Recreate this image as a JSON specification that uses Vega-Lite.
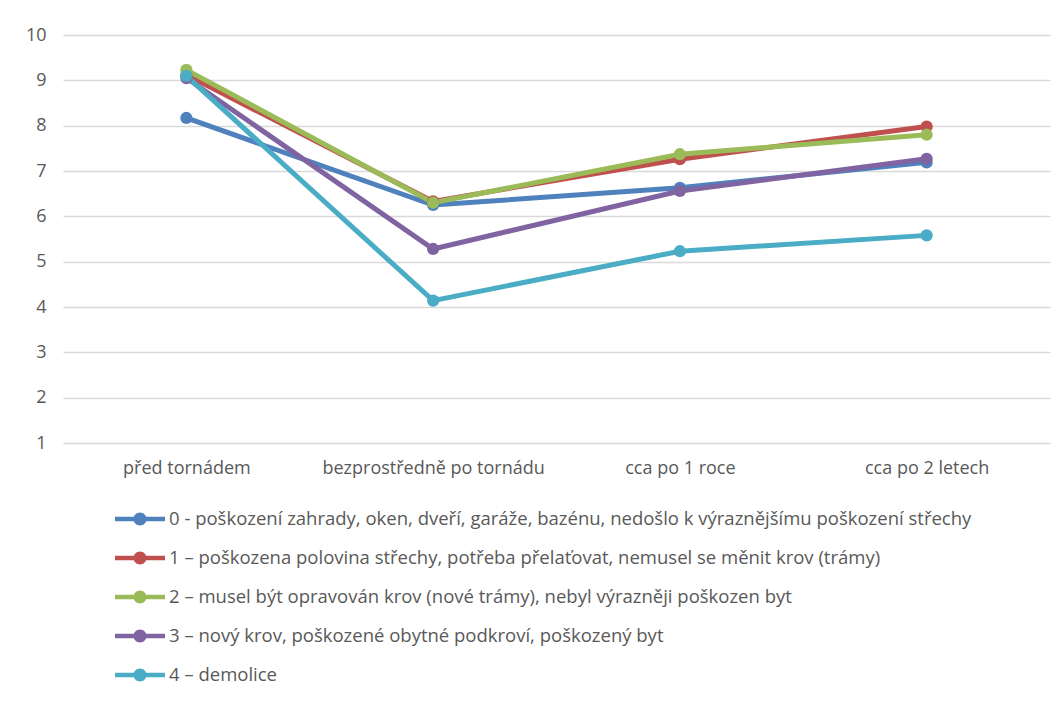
{
  "$schema": "https://vega.github.io/schema/vega-lite/v6.json",
  "width": 987,
  "height": 408,
  "autosize": {"type": "none"},
  "padding": {"left": 63, "top": 35, "right": 13, "bottom": 261},
  "background": "white",
  "config": {
    "view": {"stroke": null},
    "font": "Open Sans"
  },
  "data": {
    "values": [
      {"obdobi": "před tornádem", "skupina": "0 - poškození zahrady, oken, dveří, garáže, bazénu, nedošlo k výraznějšímu poškození střechy", "hodnota": 8.17},
      {"obdobi": "bezprostředně po tornádu", "skupina": "0 - poškození zahrady, oken, dveří, garáže, bazénu, nedošlo k výraznějšímu poškození střechy", "hodnota": 6.25},
      {"obdobi": "cca po 1 roce", "skupina": "0 - poškození zahrady, oken, dveří, garáže, bazénu, nedošlo k výraznějšímu poškození střechy", "hodnota": 6.63},
      {"obdobi": "cca po 2 letech", "skupina": "0 - poškození zahrady, oken, dveří, garáže, bazénu, nedošlo k výraznějšímu poškození střechy", "hodnota": 7.19},
      {"obdobi": "před tornádem", "skupina": "1 – poškozena polovina střechy, potřeba přelaťovat, nemusel se měnit krov (trámy)", "hodnota": 9.12},
      {"obdobi": "bezprostředně po tornádu", "skupina": "1 – poškozena polovina střechy, potřeba přelaťovat, nemusel se měnit krov (trámy)", "hodnota": 6.33},
      {"obdobi": "cca po 1 roce", "skupina": "1 – poškozena polovina střechy, potřeba přelaťovat, nemusel se měnit krov (trámy)", "hodnota": 7.26},
      {"obdobi": "cca po 2 letech", "skupina": "1 – poškozena polovina střechy, potřeba přelaťovat, nemusel se měnit krov (trámy)", "hodnota": 7.98},
      {"obdobi": "před tornádem", "skupina": "2 – musel být opravován krov (nové trámy), nebyl výrazněji poškozen byt", "hodnota": 9.23},
      {"obdobi": "bezprostředně po tornádu", "skupina": "2 – musel být opravován krov (nové trámy), nebyl výrazněji poškozen byt", "hodnota": 6.3},
      {"obdobi": "cca po 1 roce", "skupina": "2 – musel být opravován krov (nové trámy), nebyl výrazněji poškozen byt", "hodnota": 7.37},
      {"obdobi": "cca po 2 letech", "skupina": "2 – musel být opravován krov (nové trámy), nebyl výrazněji poškozen byt", "hodnota": 7.8},
      {"obdobi": "před tornádem", "skupina": "3 – nový krov, poškozené obytné podkroví, poškozený byt", "hodnota": 9.05},
      {"obdobi": "bezprostředně po tornádu", "skupina": "3 – nový krov, poškozené obytné podkroví, poškozený byt", "hodnota": 5.28},
      {"obdobi": "cca po 1 roce", "skupina": "3 – nový krov, poškozené obytné podkroví, poškozený byt", "hodnota": 6.56},
      {"obdobi": "cca po 2 letech", "skupina": "3 – nový krov, poškozené obytné podkroví, poškozený byt", "hodnota": 7.27},
      {"obdobi": "před tornádem", "skupina": "4 – demolice", "hodnota": 9.1},
      {"obdobi": "bezprostředně po tornádu", "skupina": "4 – demolice", "hodnota": 4.14},
      {"obdobi": "cca po 1 roce", "skupina": "4 – demolice", "hodnota": 5.23},
      {"obdobi": "cca po 2 letech", "skupina": "4 – demolice", "hodnota": 5.58}
    ]
  },
  "encoding": {
    "x": {
      "field": "obdobi",
      "type": "nominal",
      "sort": null,
      "scale": {"type": "point", "padding": 0.5},
      "axis": {
        "title": null,
        "labelAngle": 0,
        "ticks": false,
        "domain": false,
        "labelFontSize": 18,
        "labelColor": "#595959",
        "labelPadding": 16,
        "labelLimit": 400
      }
    },
    "y": {
      "field": "hodnota",
      "type": "quantitative",
      "scale": {"domain": [1, 10], "nice": false, "zero": false},
      "axis": {
        "title": null,
        "values": [1, 2, 3, 4, 5, 6, 7, 8, 9, 10],
        "ticks": false,
        "domain": false,
        "gridColor": "#d9d9d9",
        "gridWidth": 1.5,
        "labelFontSize": 18,
        "labelColor": "#595959",
        "labelPadding": 17
      }
    },
    "color": {
      "field": "skupina",
      "type": "nominal",
      "scale": {"range": ["#4F81BD", "#C0504D", "#9BBB59", "#8064A2", "#4BACC6"]},
      "legend": {
        "title": null,
        "orient": "none",
        "legendX": 52,
        "legendY": 459,
        "direction": "vertical",
        "symbolType": "M-1,-0.09H1V0.09H-1Z M0.26,0A0.26,0.26,0,1,1,-0.26,0A0.26,0.26,0,1,1,0.26,0Z",
        "symbolSize": 2500,
        "symbolStrokeWidth": 0,
        "symbolOpacity": 1,
        "labelFontSize": 18.5,
        "labelColor": "#595959",
        "labelLimit": 1000,
        "labelOffset": 4,
        "rowPadding": 4
      }
    }
  },
  "layer": [
    {"mark": {"type": "line", "strokeWidth": 5}},
    {"mark": {"type": "point", "filled": true, "size": 150, "opacity": 1}}
  ]
}
